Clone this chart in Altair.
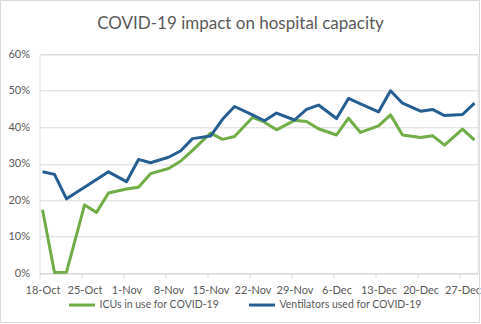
import altair as alt
import pandas as pd

dates = ["2020-10-18", "2020-10-20", "2020-10-22", "2020-10-25", "2020-10-27", "2020-10-29",
         "2020-11-01", "2020-11-03", "2020-11-05", "2020-11-08", "2020-11-10", "2020-11-12",
         "2020-11-15", "2020-11-17", "2020-11-19", "2020-11-22", "2020-11-24", "2020-11-26",
         "2020-11-29", "2020-12-01", "2020-12-03", "2020-12-06", "2020-12-08", "2020-12-10",
         "2020-12-13", "2020-12-15", "2020-12-17", "2020-12-20", "2020-12-22", "2020-12-24",
         "2020-12-27", "2020-12-29"]
icu = [17.4, 0.2, 0.3, 18.7, 16.7, 22.0, 23.1, 23.6, 27.3, 28.7, 30.7, 33.7,
       38.4, 36.7, 37.5, 42.7, 41.4, 39.3, 41.9, 41.6, 39.6, 37.9, 42.5, 38.6,
       40.4, 43.4, 37.9, 37.2, 37.7, 35.1, 39.5, 36.5]
vent = [27.8, 27.1, 20.4, 23.6, 25.7, 27.8, 25.1, 31.2, 30.3, 31.8, 33.5, 36.9,
        37.6, 42.2, 45.7, 43.4, 41.8, 43.9, 42.0, 44.9, 46.1, 42.4, 47.9, 46.4,
        44.2, 50.0, 46.6, 44.4, 44.9, 43.2, 43.5, 46.6]
series = ["ICUs in use for COVID-19", "Ventilators used for COVID-19"]
colors = ["#70AD47", "#255E91"]
tick_dates = [(10, 18), (10, 25), (11, 1), (11, 8), (11, 15), (11, 22), (11, 29),
              (12, 6), (12, 13), (12, 20), (12, 27)]

rows = []
for d, a, b in zip(dates, icu, vent):
    rows.append({"date": d, "series": series[0], "value": a / 100})
    rows.append({"date": d, "series": series[1], "value": b / 100})
df = pd.DataFrame(rows)

FONT = "Lato"
GRAY = "#595959"

x_enc = alt.X(
    "date:T",
    scale=alt.Scale(type="utc",
                    domain=[alt.DateTime(year=2020, month=10, date=17, hours=12, utc=True),
                            alt.DateTime(year=2020, month=12, date=29, hours=12, utc=True)]),
    axis=alt.Axis(
        title=None,
        values=[alt.DateTime(year=2020, month=m, date=d, utc=True) for m, d in tick_dates],
        format="%-d-%b",
        grid=False,
        domainColor="#d9d9d9",
        tickColor="#d9d9d9",
        tickSize=5,
        tickOffset=-3,
        labelOffset=3,
        labelFont=FONT,
        labelFontSize=11,
        labelColor=GRAY,
        labelPadding=6,
        labelAngle=0,
    ),
)

y_enc = alt.Y(
    "value:Q",
    scale=alt.Scale(domain=[0, 0.6], nice=False, zero=True),
    axis=alt.Axis(
        title=None,
        values=[0, 0.1, 0.2, 0.3, 0.4, 0.5, 0.6],
        format=".0%",
        domain=False,
        ticks=False,
        gridColor="#d9d9d9",
        labelFont=FONT,
        labelFontSize=11,
        labelColor=GRAY,
        labelPadding=10,
    ),
)

lines = alt.Chart(df).mark_line(strokeWidth=3, strokeJoin="round").encode(
    x=x_enc,
    y=y_enc,
    color=alt.Color(
        "series:N",
        scale=alt.Scale(domain=series, range=colors),
        legend=alt.Legend(
            title=None,
            orient="none",
            legendX=28,
            legendY=236,
            direction="horizontal",
            symbolType="stroke",
            symbolSize=676,
            symbolStrokeWidth=3,
            labelFont=FONT,
            labelFontSize=10.5,
            labelColor=GRAY,
            labelOffset=3,
            columnPadding=23,
        ),
    ),
)

border = alt.Chart(alt.Data(values=[{"a": 1}])).mark_rect(
    fill="transparent", stroke="#d9d9d9", strokeWidth=1
).encode(
    x=alt.value(-39), x2=alt.value(440), y=alt.value(-53.8), y2=alt.value(268.2)
)

chart = alt.layer(border, lines).properties(
    width=438,
    height=219,
    title=alt.TitleParams(
        "COVID-19 impact on hospital capacity",
        font=FONT,
        fontSize=17,
        fontWeight="normal",
        color=GRAY,
        anchor="middle",
        baseline="alphabetic",
        dx=-18,
        offset=-46,
    ),
    autosize=alt.AutoSizeParams(type="none"),
    padding={"left": 39.5, "top": 54.3, "right": 3.5, "bottom": 50.7},
).configure_view(stroke=None).configure(background="white")

chart.save("out.html", embed_options={"renderer": "svg", "actions": False})
